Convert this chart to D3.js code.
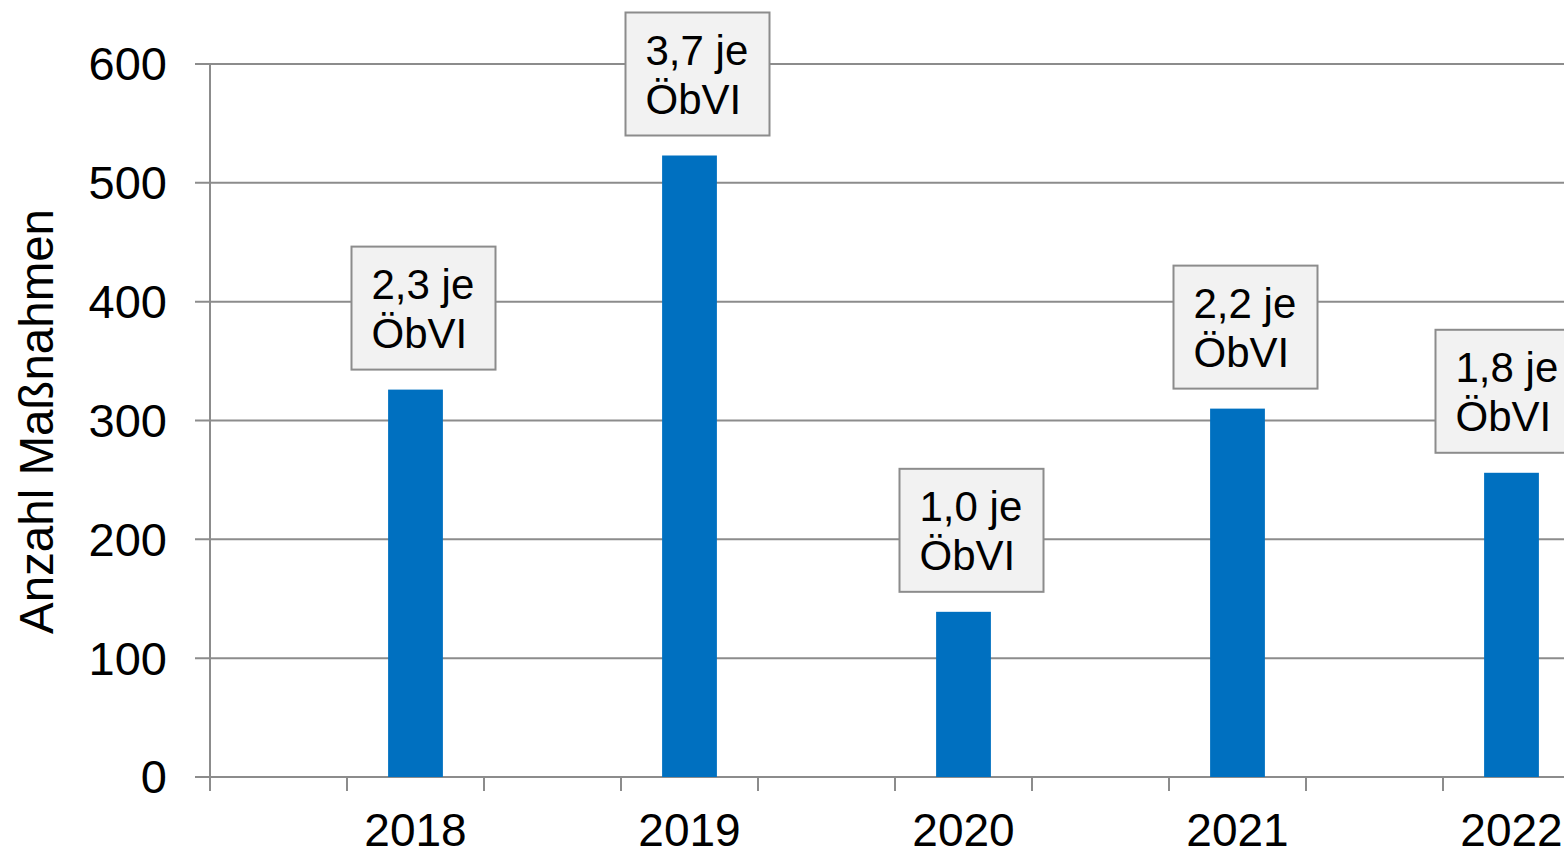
<!DOCTYPE html>
<html>
<head>
<meta charset="utf-8">
<script src="https://cdn.jsdelivr.net/npm/d3@7"></script>
<style>
  body { margin: 0; background: #fff; overflow: hidden; }
  text { font-family: "Liberation Sans", Arial, sans-serif; fill: #000; }
</style>
</head>
<body>
<script>
// data
const years = ["2018", "2019", "2020", "2021", "2022"];
const values = [326, 523, 139, 310, 256];
const ratioLabels = ["2,3 je", "3,7 je", "1,0 je", "2,2 je", "1,8 je"];
const yTicks = [0, 100, 200, 300, 400, 500, 600];
const axisTitle = "Anzahl Maßnahmen";

const W = 1564, H = 857;
const m = { left: 210, top: 64, right: 1580, bottom: 777 };

const svg = d3.select("body").append("svg")
    .attr("width", W)
    .attr("height", H);

// each year sits in every second slot, an empty slot before it
const slots = [];
years.forEach(function (y, i) { slots.push("_" + i); slots.push(y); });

const x = d3.scaleBand()
    .domain(slots)
    .range([m.left, m.right])
    .padding(0);

const y = d3.scaleLinear()
    .domain([0, 600])
    .range([m.bottom, m.top]);

const grey = "#8c8c8c";

// gridlines + y ticks
svg.append("g")
    .selectAll("line")
    .data(yTicks)
    .join("line")
    .attr("x1", m.left - 15)
    .attr("x2", W)
    .attr("y1", d => y(d))
    .attr("y2", d => y(d))
    .attr("stroke", grey)
    .attr("stroke-width", 2);

svg.append("g")
    .selectAll("text")
    .data(yTicks)
    .join("text")
    .attr("x", 167)
    .attr("y", d => y(d))
    .attr("dy", "0.35em")
    .attr("text-anchor", "end")
    .style("font-size", "47px")
    .text(d => d);

// y axis line
svg.append("line")
    .attr("x1", m.left).attr("x2", m.left)
    .attr("y1", m.top).attr("y2", m.bottom + 14)
    .attr("stroke", grey)
    .attr("stroke-width", 2);

// x tick marks at slot boundaries
const bounds = slots.map(s => x(s)).concat([m.right]);
svg.append("g")
    .selectAll("line")
    .data(bounds)
    .join("line")
    .attr("x1", d => d).attr("x2", d => d)
    .attr("y1", m.bottom)
    .attr("y2", m.bottom + 14)
    .attr("stroke", grey)
    .attr("stroke-width", 2);

// bars
const barW = x.bandwidth() * 0.4;
svg.append("g")
    .selectAll("rect")
    .data(years)
    .join("rect")
    .attr("x", d => x(d) + x.bandwidth() / 2 - barW / 2)
    .attr("y", (d, i) => y(values[i]))
    .attr("width", barW)
    .attr("height", (d, i) => y(0) - y(values[i]))
    .attr("fill", "#0070c0");

// x labels
svg.append("g")
    .selectAll("text")
    .data(years)
    .join("text")
    .attr("x", d => x(d) + x.bandwidth() / 2)
    .attr("y", 846)
    .attr("text-anchor", "middle")
    .style("font-size", "46px")
    .text(d => d);

// value boxes
const boxW = 144, boxH = 123;
const lab = svg.append("g")
    .selectAll("g")
    .data(years)
    .join("g")
    .attr("transform", (d, i) => {
        let cx = x(d) + x.bandwidth() / 2 + 8;
        if (i === years.length - 1) cx = x(d) + x.bandwidth() / 2 - 4;
        return "translate(" + (cx - boxW / 2) + "," + (y(values[i]) - 20 - boxH) + ")";
    });

lab.append("rect")
    .attr("width", boxW)
    .attr("height", boxH)
    .attr("fill", "#f2f2f2")
    .attr("stroke", grey)
    .attr("stroke-width", 2);

lab.append("text")
    .attr("x", 20)
    .attr("y", 52)
    .style("font-size", "42px")
    .text((d, i) => ratioLabels[i]);

lab.append("text")
    .attr("x", 20)
    .attr("y", 101)
    .style("font-size", "42px")
    .text("ÖbVI");

// axis title
svg.append("text")
    .attr("transform", "translate(53," + ((m.top + m.bottom) / 2 + 1) + ") rotate(-90)")
    .attr("text-anchor", "middle")
    .style("font-size", "47.5px")
    .text(axisTitle);
</script>
</body>
</html>
